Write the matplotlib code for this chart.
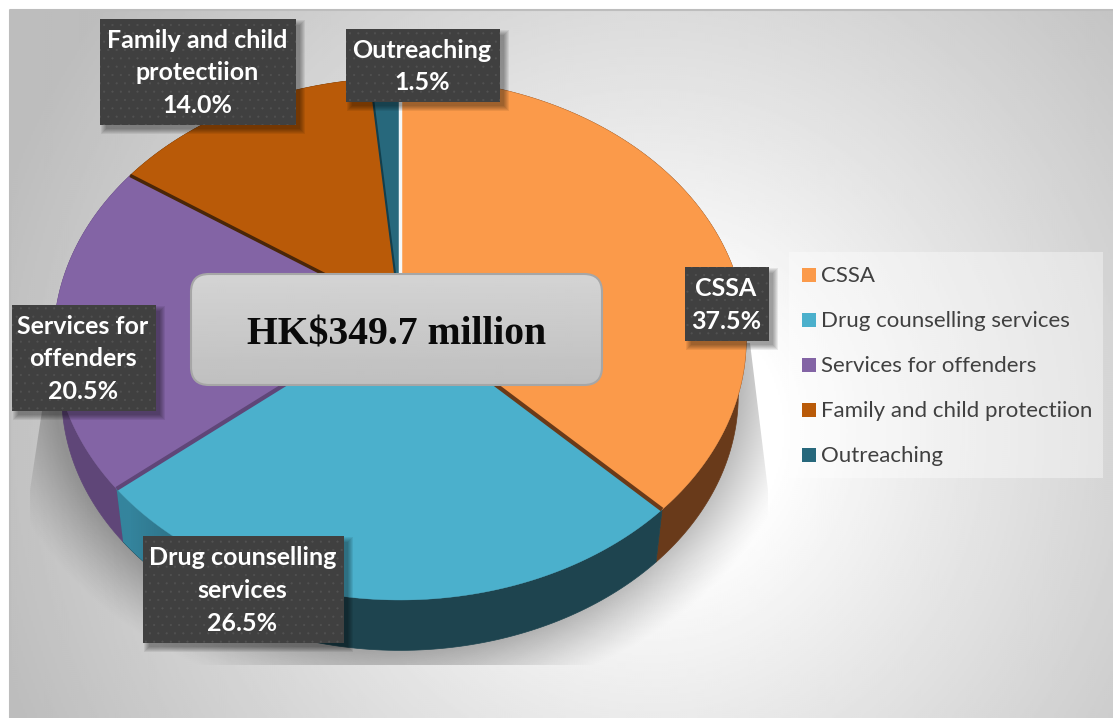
import numpy as np
import matplotlib
matplotlib.use("Agg")
import matplotlib.pyplot as plt
from matplotlib.patches import Rectangle, FancyBboxPatch, Polygon

services = ["CSSA", "Drug counselling services", "Services for offenders",
            "Family and child protectiion", "Outreaching"]
box_names = ["CSSA", "Drug counselling\nservices", "Services for\noffenders",
             "Family and child\nprotectiion", "Outreaching"]
shares = [37.5, 26.5, 20.5, 14.0, 1.5]
total_text = "HK$349.7 million"

top_colors = ["#FB9A4A", "#4BB0CC", "#8364A5", "#B95A08", "#27687C"]
wall_colors = ["#693A1A", "#1E444F", "#5F4678", "#5E2E05", "#123F4D"]
seam_colors = ["#6B3A18", "#5F4678", "#4A2608", "#123F4D", "#F4F8FA"]
seam_widths = [3.0, 3.0, 2.5, 1.5, 2.5]

# label boxes: left, top, right, bottom in pixels
boxes = [(685, 267, 769, 341), (143, 536, 344, 643), (12, 305, 156, 411),
         (100, 19, 296, 125), (346, 29, 500, 102)]

W, H = 1113, 718
CX, CY = 400, 313
RX, RY, K = 344.5, 258.4, 0.0996
plt.rcParams["hatch.linewidth"] = 0.3


def project(t, scale=1.0, cy=CY):
    # t runs clockwise from 12 o'clock; far side of the disc is foreshortened
    u, v = np.sin(t), np.cos(t)
    w = 1 + K * v
    return CX + scale * RX * u / w, cy - scale * RY * v / w


def arc(a, b):
    return np.linspace(a, b, max(int((b - a) * 60), 8))


def gradient(ax, data, cmap="gray", clip=None, zorder=1, vmin=0, vmax=1):
    im = ax.imshow(data, extent=(0, W, H, 0), cmap=cmap, vmin=vmin, vmax=vmax,
                   zorder=zorder, aspect="auto", interpolation="bilinear")
    if clip is not None:
        clip.set_transform(ax.transData)
        im.set_clip_path(clip)
    return im


fig = plt.figure(figsize=(W / 100, H / 100), dpi=100)
ax = fig.add_axes([0, 0, 1, 1])

yy, xx = np.mgrid[0:H:2, 0:W:2]

# page background, white in the middle going grey toward the corners
dist = np.hypot((xx - 650) / 590.0, (yy - 430) / 600.0)
bg = 1.0 - 0.26 * np.clip((dist - 0.22) / 0.95, 0, 1) ** 0.9
gradient(ax, bg, clip=Rectangle((10, 10), W - 10, H - 10), zorder=1)
ax.plot([10, 10, W], [H, 10, 10], color="#BDBDBD", lw=1.5, zorder=1.5)

# soft cast shadow below the disc, cut off by a trapezoid
ell = np.hypot((xx - 396) / 345.0, (yy - 372) / 279.0)
fall = np.clip(1 - (ell - 1) * 300 / 60.0, 0, 1)
alpha = 0.27 * fall ** 1.2
shadow = np.zeros(alpha.shape + (4,))
shadow[..., 3] = alpha
trap = Polygon([(52, 345), (30, 490), (30, 665), (768, 665), (768, 490), (750, 343)],
               closed=True)
gradient(ax, shadow, clip=trap, zorder=2)

edges = 2 * np.pi * np.cumsum([0] + shares) / sum(shares)
low_cy, low_scale = 370, 0.977

# side walls first, the top surface hides whatever is behind
for i in range(len(shares)):
    t = arc(edges[i], edges[i + 1])
    x1, y1 = project(t)
    x2, y2 = project(t[::-1], low_scale, low_cy)
    pts = np.column_stack([np.r_[x1, x2], np.r_[y1, y2]])
    ax.fill(pts[:, 0], pts[:, 1], color=wall_colors[i], lw=0.5, zorder=3)
    if i == 1:
        # the drug wall lightens as it comes round to the left
        rgb = np.zeros(xx.shape + (4,))
        rgb[..., :3] = matplotlib.colors.to_rgb("#34849D")
        rgb[..., 3] = np.clip((300 - xx) / 170.0, 0, 1)
        gradient(ax, rgb, clip=Polygon(pts, closed=True), zorder=3.1)

for i in range(len(shares)):
    t = arc(edges[i], edges[i + 1])
    x, y = project(t)
    ax.fill(np.r_[CX, x], np.r_[CY, y], color=top_colors[i], lw=0.3, zorder=4)

# seams between the slices
for i in range(len(shares)):
    x, y = project(edges[i + 1] % (2 * np.pi))
    ax.plot([CX, x], [CY, y], color=seam_colors[i], lw=seam_widths[i],
            solid_capstyle="butt", zorder=5)

# centre plate with the total
plate = FancyBboxPatch((191 + 15, 274 + 15), 411 - 30, 111 - 30,
                       boxstyle="round,pad=15,rounding_size=18", fc="none",
                       ec="#A6A6A6", lw=1.5, zorder=7)
ax.add_patch(plate)
fill = FancyBboxPatch((191 + 15, 274 + 15), 411 - 30, 111 - 30,
                      boxstyle="round,pad=15,rounding_size=18")
shade = 0.83 - np.clip((yy - 274) / 111.0, 0, 1) * 0.08
gradient(ax, shade, clip=fill, zorder=6)
ax.text(397, 335, total_text, family="Liberation Serif", weight="bold",
        fontsize=28.5, color="#0A0A0A", ha="center", va="center", zorder=8)

# dark value boxes with a dotted fill and drop shadow
for i, (l, t, r, b) in enumerate(boxes):
    for g in range(6):
        ax.add_patch(Rectangle((l + 6 - g, t + 6 - g), r - l + 2 * g - 2, b - t + 2 * g - 2,
                               fc="black", ec="none", alpha=0.07, zorder=9))
    ax.add_patch(Rectangle((l, t), r - l, b - t, fc="#404040", ec="#525252",
                           lw=0, hatch="..", zorder=10))
    ax.text((l + r) / 2 - 1, (t + b) / 2 + 1, f"{box_names[i]}\n{shares[i]:.1f}%",
            family="Lato", weight="bold", fontsize=18, color="white",
            ha="center", va="center", linespacing=1.52, zorder=11)

# legend panel
ax.add_patch(Rectangle((789, 252), 314, 226, fc="white", ec="none", alpha=0.38, zorder=6))
for i, name in enumerate(services):
    y = 275 + 45 * i
    ax.add_patch(Rectangle((802, y - 7), 14, 14, fc=top_colors[i], ec="none", zorder=7))
    ax.text(821, y + 1, name, family="Lato", fontsize=16, color="#404040",
            va="center", ha="left", zorder=7)

ax.set_xlim(0, W)
ax.set_ylim(H, 0)
ax.axis("off")
fig.savefig("out.png", dpi=100, facecolor="white")
